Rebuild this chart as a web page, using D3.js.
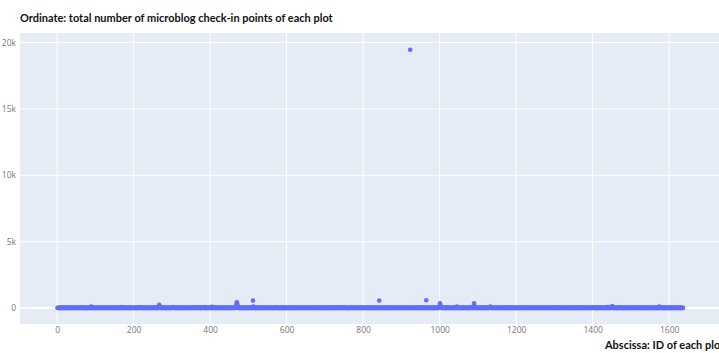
<!DOCTYPE html>
<html>
<head>
<meta charset="utf-8">
<script src="https://cdn.jsdelivr.net/npm/d3@7"></script>
<style>
  html, body { margin: 0; padding: 0; background: #fff; }
  svg { display: block; }
</style>
</head>
<body>
<svg id="chart" width="719" height="353"></svg>
<script>
// Check-in totals per plot, listed in plot ID order (ID 1, 2, 3, ...), 40 per row.
const checkins = [
  12, 5, 0, 18, 7, 3, 22, 9, 14, 1, 6, 27, 4, 11, 0, 8, 16, 2, 31, 5, 10, 3, 19, 7, 0, 13, 24, 6, 2, 9, 15, 4, 21, 1, 8, 12, 3, 17, 6, 10,
  4, 20, 8, 1, 13, 29, 5, 0, 11, 7, 18, 2, 9, 25, 3, 14, 6, 0, 10, 22, 4, 8, 16, 1, 33, 7, 12, 3, 19, 5, 0, 9, 14, 26, 2, 11, 6, 15, 4, 8,
  10, 3, 17, 6, 0, 12, 21, 5, 110, 14, 2, 8, 19, 4, 11, 28, 1, 7, 13, 0, 24, 6, 9, 15, 3, 18, 5, 10, 2, 30, 7, 12, 0, 16, 4, 22, 9, 1, 14, 6,
  7, 15, 2, 11, 26, 4, 9, 0, 18, 6, 13, 3, 20, 8, 1, 12, 35, 5, 10, 2, 16, 7, 0, 23, 11, 4, 14, 9, 3, 19, 6, 27, 1, 10, 5, 17, 8, 2, 12, 21,
  3, 9, 14, 0, 22, 6, 11, 4, 17, 70, 8, 1, 13, 5, 28, 10, 2, 19, 7, 0, 15, 24, 3, 9, 12, 6, 1, 18, 11, 4, 31, 8, 14, 2, 20, 5, 10, 16, 0, 7,
  19, 4, 8, 13, 1, 25, 6, 10, 2, 17, 9, 0, 14, 21, 5, 11, 60, 3, 16, 7, 29, 1, 12, 8, 4, 20, 10, 0, 15, 6, 23, 2, 9, 13, 5, 18, 1, 11, 26, 7,
  5, 12, 1, 20, 9, 3, 15, 0, 24, 7, 11, 4, 18, 2, 13, 32, 6, 10, 1, 16, 8, 22, 3, 14, 5, 130, 240, 90, 12, 4, 19, 0, 9, 27, 6, 13, 2, 17, 8, 11,
  14, 0, 21, 6, 10, 3, 17, 8, 1, 26, 12, 5, 15, 2, 9, 19, 4, 0, 13, 7, 23, 11, 80, 3, 16, 6, 1, 20, 10, 14, 4, 8, 29, 2, 12, 5, 18, 0, 9, 15,
  8, 17, 3, 12, 5, 22, 0, 10, 15, 2, 19, 7, 13, 1, 28, 9, 4, 16, 6, 11, 0, 20, 14, 3, 8, 25, 5, 12, 1, 17, 10, 7, 2, 21, 13, 4, 9, 30, 6, 15,
  2, 11, 18, 6, 0, 60, 14, 4, 9, 23, 1, 16, 8, 12, 3, 27, 7, 10, 0, 19, 5, 13, 22, 2, 15, 9, 70, 4, 11, 6, 18, 1, 14, 8, 24, 3, 10, 17, 5, 12,
  16, 4, 9, 1, 90, 13, 7, 20, 3, 11, 0, 25, 8, 15, 5, 10, 2, 18, 12, 6, 29, 0, 14, 9, 4, 21, 7, 1, 16, 11, 3, 13, 26, 5, 8, 0, 19, 10, 2, 14,
  9, 1, 15, 22, 6, 11, 3, 17, 0, 13, 8, 28, 4, 10, 19, 2, 14, 7, 0, 24, 12, 5, 16, 9, 1, 20, 40, 180, 300, 430, 260, 120, 35, 6, 13, 3, 18, 10, 0, 15,
  12, 6, 20, 2, 9, 14, 0, 17, 5, 11, 26, 3, 8, 15, 1, 19, 10, 4, 13, 22, 7, 0, 16, 9, 3, 12, 27, 6, 1, 18, 8, 560, 110, 14, 5, 21, 2, 10, 7, 16,
  1, 13, 7, 18, 4, 10, 25, 0, 12, 6, 15, 3, 20, 9, 2, 14, 8, 31, 5, 11, 0, 17, 13, 4, 9, 22, 6, 1, 15, 10, 3, 19, 7, 12, 0, 24, 8, 14, 2, 11,
  18, 7, 2, 14, 9, 0, 21, 5, 11, 16, 3, 8, 27, 1, 13, 6, 19, 10, 4, 0, 15, 23, 7, 12, 2, 17, 9, 5, 30, 11, 1, 14, 8, 20, 3, 10, 16, 6, 0, 13,
  6, 15, 10, 3, 19, 12, 1, 8, 24, 4, 14, 0, 11, 17, 7, 2, 22, 9, 13, 5, 28, 3, 10, 0, 16, 8, 12, 20, 4, 1, 15, 9, 6, 26, 11, 2, 18, 7, 13, 3,
  11, 2, 17, 8, 0, 22, 5, 13, 9, 1, 19, 6, 14, 3, 25, 10, 4, 16, 0, 12, 7, 21, 2, 15, 9, 5, 32, 11, 1, 18, 6, 13, 4, 10, 23, 0, 8, 14, 3, 17,
  4, 20, 9, 13, 1, 16, 7, 0, 27, 11, 5, 12, 2, 18, 8, 14, 3, 21, 10, 6, 0, 15, 24, 4, 11, 9, 1, 17, 13, 7, 29, 2, 10, 5, 16, 12, 0, 19, 8, 3,
  15, 8, 0, 12, 21, 3, 10, 17, 6, 2, 14, 26, 9, 0, 13, 5, 19, 11, 1, 23, 7, 16, 4, 60, 10, 3, 18, 8, 0, 14, 20, 6, 12, 2, 9, 25, 5, 15, 1, 11,
  7, 13, 3, 19, 5, 10, 0, 28, 14, 8, 1, 16, 11, 4, 22, 6, 12, 2, 17, 9, 0, 13, 27, 5, 15, 10, 3, 20, 7, 1, 18, 12, 6, 24, 0, 9, 14, 4, 11, 16,
  10, 1, 16, 6, 23, 12, 4, 9, 0, 18, 13, 7, 30, 2, 11, 15, 5, 20, 8, 3, 14, 0, 19, 10, 6, 12, 25, 1, 9, 16, 4, 13, 7, 21, 2, 11, 17, 5, 0, 14,
  8, 560, 12, 3, 17, 9, 0, 14, 22, 5, 11, 2, 19, 7, 13, 26, 4, 10, 1, 16, 8, 21, 0, 12, 6, 15, 3, 28, 9, 11, 2, 18, 14, 5, 0, 20, 7, 13, 10, 4,
  13, 6, 21, 0, 10, 15, 3, 19, 8, 12, 1, 24, 5, 9, 17, 2, 14, 11, 27, 6, 0, 16, 10, 4, 20, 13, 7, 1, 18, 9, 12, 3, 23, 15, 5, 0, 11, 8, 19, 2,
  5, 14, 19450, 9, 2, 18, 11, 6, 0, 21, 13, 4, 16, 10, 1, 25, 7, 12, 3, 15, 9, 0, 20, 14, 6, 11, 29, 2, 17, 8, 4, 13, 10, 0, 22, 5, 16, 12, 1, 9,
  17, 3, 11, 8, 590, 14, 6, 20, 1, 12, 9, 26, 4, 15, 0, 10, 18, 7, 13, 2, 23, 11, 5, 16, 0, 9, 14, 3, 21, 8, 12, 1, 19, 6, 30, 10, 4, 15, 60, 150,
  360, 200, 40, 7, 13, 2, 17, 10, 5, 22, 0, 14, 9, 18, 3, 11, 27, 6, 12, 1, 16, 8, 20, 4, 13, 0, 24, 10, 7, 15, 2, 19, 11, 5, 9, 28, 3, 14, 0, 12,
  9, 16, 4, 11, 110, 30, 8, 0, 19, 13, 6, 23, 2, 10, 15, 5, 12, 1, 21, 9, 14, 3, 17, 7, 0, 26, 11, 6, 18, 13, 2, 10, 4, 22, 8, 15, 1, 12, 20, 5,
  14, 2, 10, 20, 6, 13, 0, 45, 180, 350, 150, 12, 3, 18, 9, 24, 5, 11, 1, 16, 7, 13, 0, 21, 10, 4, 15, 28, 8, 2, 12, 19, 6, 0, 14, 9, 25, 3, 11, 17,
  3, 19, 12, 6, 15, 0, 9, 22, 4, 13, 50, 120, 40, 8, 1, 17, 11, 26, 5, 14, 2, 10, 20, 7, 0, 16, 12, 3, 23, 9, 15, 1, 11, 6, 18, 13, 0, 21, 8, 4,
  12, 7, 0, 17, 10, 24, 3, 14, 8, 1, 19, 11, 5, 29, 13, 0, 16, 6, 22, 9, 2, 12, 15, 4, 18, 10, 1, 27, 7, 14, 3, 20, 11, 5, 0, 16, 9, 13, 23, 2,
  6, 21, 14, 2, 11, 5, 18, 0, 13, 26, 9, 3, 16, 10, 7, 20, 1, 12, 15, 4, 31, 8, 0, 17, 11, 6, 13, 2, 22, 9, 5, 14, 0, 19, 10, 3, 25, 7, 12, 15,
  16, 0, 9, 13, 4, 19, 10, 2, 23, 6, 12, 15, 1, 18, 8, 0, 14, 27, 5, 11, 9, 3, 16, 20, 6, 1, 12, 10, 4, 24, 13, 7, 0, 17, 2, 11, 15, 8, 21, 5,
  2, 12, 18, 7, 0, 15, 9, 25, 4, 11, 14, 1, 20, 6, 13, 10, 3, 17, 0, 22, 8, 12, 5, 15, 28, 2, 9, 14, 11, 0, 19, 6, 13, 3, 16, 10, 1, 23, 7, 12,
  11, 5, 15, 1, 20, 8, 13, 3, 17, 0, 10, 22, 6, 14, 2, 26, 9, 12, 4, 16, 0, 19, 7, 11, 13, 3, 21, 8, 1, 15, 10, 5, 30, 12, 6, 0, 18, 14, 2, 9,
  19, 10, 3, 14, 8, 0, 22, 12, 6, 16, 1, 11, 27, 4, 9, 15, 7, 2, 20, 13, 5, 10, 0, 18, 14, 3, 25, 9, 12, 6, 1, 17, 11, 21, 4, 8, 0, 15, 13, 60,
  7, 14, 1, 11, 17, 4, 10, 19, 0, 13, 8, 24, 5, 15, 2, 12, 9, 20, 3, 6, 16, 0, 28, 11, 7, 14, 2, 18, 10, 4, 13, 23, 1, 9, 15, 6, 12, 0, 70, 10,
  15, 8, 20, 3, 12, 0, 17, 9, 26, 80, 150, 45, 6, 14, 1, 11, 19, 4, 10, 7, 22, 13, 2, 16, 0, 9, 12, 5, 18, 14, 3, 27, 8, 11, 1, 20, 6, 15, 10, 4,
  4, 16, 10, 0, 21, 7, 13, 2, 15, 11, 5, 19, 9, 1, 24, 12, 6, 17, 0, 14, 10, 3, 29, 8, 13, 18, 4, 11, 1, 22, 15, 7, 0, 12, 9, 19, 5, 14, 26, 2,
  13, 1, 18, 9, 6, 14, 0, 11, 23, 4, 16, 10, 2, 20, 7, 12, 3, 15, 27, 5, 9, 0, 13, 17, 8, 11, 1, 21, 14, 4, 10, 19, 6, 0, 16, 12, 3, 25, 9, 7,
  10, 18, 5, 12, 0, 20, 8, 15, 3, 11, 24, 6, 14, 110, 40, 9, 1, 17, 13, 4, 22, 10, 0, 16, 7, 12, 28, 2, 15, 9, 5, 19, 11, 0, 14, 6, 21, 3, 13, 8,
  1, 15, 9, 20, 6, 12, 3, 17, 0, 10, 25, 13, 4, 8, 19, 2, 14, 11, 0, 22, 7, 16, 5, 12, 9, 27, 1, 13, 18, 6, 10, 3, 15, 0, 11, 8
];

// Plot IDs run 1..N in the same order as the check-in totals.
const plotIds = checkins.map((_, i) => i + 1);

const xTicks = [0, 200, 400, 600, 800, 1000, 1200, 1400, 1600];
const yTicks = [0, 5000, 10000, 15000, 20000];
const yTickLabels = ["0", "5k", "10k", "15k", "20k"];

const titleText = "Ordinate: total number of microblog check-in points of each plot";
const xAxisText = "Abscissa: ID of each plot";

const svg = d3.select("#chart");
const plot = { left: 20, top: 33, right: 722, bottom: 324 };

const x = d3.scaleLinear().domain([-97, 1738]).range([plot.left, plot.right]);
const y = d3.scaleLinear().domain([-1203, 20714]).range([plot.bottom, plot.top]);

const TICK_FONT = "'Open Sans', 'Noto Sans', sans-serif";
const LABEL_FONT = "Lato, 'Open Sans', sans-serif";

// plot background
svg.append("rect")
  .attr("x", plot.left).attr("y", plot.top)
  .attr("width", plot.right - plot.left).attr("height", plot.bottom - plot.top)
  .attr("fill", "#e5ecf6");

// grid lines
const grid = svg.append("g");
grid.selectAll("line.vx").data(xTicks).join("line")
  .attr("x1", d => x(d)).attr("x2", d => x(d))
  .attr("y1", plot.top).attr("y2", plot.bottom)
  .attr("stroke", "#fff").attr("stroke-width", 1);
grid.selectAll("line.hy").data(yTicks).join("line")
  .attr("x1", plot.left).attr("x2", plot.right)
  .attr("y1", d => y(d)).attr("y2", d => y(d))
  .attr("stroke", "#fff").attr("stroke-width", d => d === 0 ? 2 : 1);

// axes: labels only, no domain lines or tick marks
const xAxis = d3.axisBottom(x).tickValues(xTicks).tickSize(0).tickPadding(3)
  .tickFormat(d3.format("d"));
const yAxis = d3.axisLeft(y).tickValues(yTicks).tickSize(0).tickPadding(4)
  .tickFormat((d, i) => yTickLabels[i]);

const gx = svg.append("g").attr("transform", `translate(0,${plot.bottom})`).call(xAxis);
const gy = svg.append("g").attr("transform", `translate(${plot.left},0)`).call(yAxis);
[gx, gy].forEach(g => {
  g.select(".domain").remove();
  g.selectAll("text").attr("fill", "#777").style("font-family", TICK_FONT).style("font-size", "8.5px");
});

// markers
svg.append("g").selectAll("circle").data(checkins).join("circle")
  .attr("cx", (d, i) => x(plotIds[i]))
  .attr("cy", d => y(d))
  .attr("r", 2.3)
  .attr("fill", "#636efa");

// titles
const title = svg.append("text")
  .attr("x", 20).attr("y", 22)
  .style("font-family", LABEL_FONT).style("font-size", "12px").style("font-weight", 700)
  .attr("fill", "#111")
  .text(titleText);

// size the label font so the title spans its intended width
const titleSize = 12 * 313 / title.node().getComputedTextLength();
title.style("font-size", titleSize + "px");

svg.append("text")
  .attr("x", 605).attr("y", 349)
  .style("font-family", LABEL_FONT).style("font-size", titleSize + "px").style("font-weight", 700)
  .attr("fill", "#111")
  .text(xAxisText);
</script>
</body>
</html>
